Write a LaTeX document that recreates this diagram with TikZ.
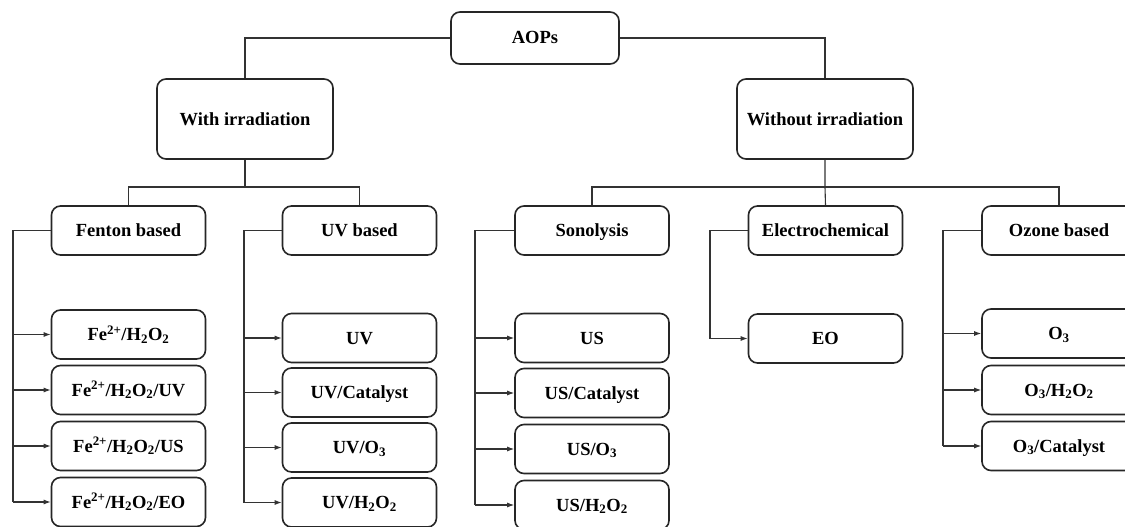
\documentclass[tikz,border=0pt]{standalone}
\usepackage{fontspec}
\setmainfont{Liberation Serif}
\usetikzlibrary{arrows.meta}
\definecolor{linec}{HTML}{333333}
\definecolor{boxc}{HTML}{262626}
\tikzset{
  box/.style={draw=boxc, line width=1.6pt, rounded corners=9pt, fill=white,
    inner sep=0pt, font=\bfseries\fontsize{18.5}{20}\selectfont,
    text height=15pt, text depth=3pt, align=center},
  lvlone/.style={box, minimum width=168pt, minimum height=52pt},
  lvltwo/.style={box, minimum width=176pt, minimum height=80pt},
  cat/.style={box, minimum width=154pt, minimum height=49pt},
  leaf/.style={box, minimum width=154pt, minimum height=49pt},
  conn/.style={draw=linec, line width=1.1pt},
  arr/.style={conn, -{Latex[length=7pt,width=5pt]}},
}
\begin{document}
\begin{tikzpicture}[x=1pt,y=-1pt]
\useasboundingbox (0,0) rectangle (1125,527);
\clip (0,0) rectangle (1125,527);
\fill[white] (0,0) rectangle (1125,527);
% top
\node[lvlone] (aops) at (535,38) {AOPs};
\node[lvltwo] (with) at (245,119) {With irradiation};
\node[lvltwo] (without) at (825,119) {Without irradiation};
% categories
\node[cat] (fenton) at (128.5,230.5) {Fenton based};
\node[cat] (uvb) at (359.5,230.5) {UV based};
\node[cat] (sono) at (592,230.5) {Sonolysis};
\node[cat] (elec) at (825.5,230.5) {Electrochemical};
\node[cat] (ozone) at (1059,230.5) {Ozone based};
% Fenton children
\node[leaf] (fe1) at (128.5,334.5) {Fe\textsuperscript{2+}/H\textsubscript{2}O\textsubscript{2}};
\node[leaf] (fe2) at (128.5,390) {Fe\textsuperscript{2+}/H\textsubscript{2}O\textsubscript{2}/UV};
\node[leaf] (fe3) at (128.5,446) {Fe\textsuperscript{2+}/H\textsubscript{2}O\textsubscript{2}/US};
\node[leaf] (fe4) at (128.5,502) {Fe\textsuperscript{2+}/H\textsubscript{2}O\textsubscript{2}/EO};
% UV children
\node[leaf] (uv1) at (359.5,338) {UV};
\node[leaf] (uv2) at (359.5,392.5) {UV/Catalyst};
\node[leaf] (uv3) at (359.5,447.5) {UV/O\textsubscript{3}};
\node[leaf] (uv4) at (359.5,502.5) {UV/H\textsubscript{2}O\textsubscript{2}};
% US children
\node[leaf] (us1) at (592,338) {US};
\node[leaf] (us2) at (592,393) {US/Catalyst};
\node[leaf] (us3) at (592,449) {US/O\textsubscript{3}};
\node[leaf] (us4) at (592,505) {US/H\textsubscript{2}O\textsubscript{2}};
% EO
\node[leaf] (eo) at (825.5,338.5) {EO};
% Ozone children
\node[leaf] (oz1) at (1059,333.5) {O\textsubscript{3}};
\node[leaf] (oz2) at (1059,390) {O\textsubscript{3}/H\textsubscript{2}O\textsubscript{2}};
\node[leaf] (oz3) at (1059,446) {O\textsubscript{3}/Catalyst};
% coordinates
\coordinate (b1) at (245,187);
\coordinate (b2) at (825,187);
\coordinate (sf) at (13,230.5);
\coordinate (su) at (244,230.5);
\coordinate (ss) at (475,230.5);
\coordinate (se) at (710,230.5);
\coordinate (so) at (943,230.5);
% connectors
\draw[conn] (aops.west) -| (with.north);
\draw[conn] (aops.east) -| (without.north);
\draw[conn] (with.south) -- (b1);
\draw[conn] (fenton.north) |- (b1) -| (uvb.north);
\draw[conn] (without.south) -- (b2) -- (elec.north);
\draw[conn] (sono.north) |- (b2) -| (ozone.north);
% side rails
\draw[conn] (fenton.west) -- (sf) -- (sf |- fe4.west);
\draw[conn] (uvb.west) -- (su) -- (su |- uv4.west);
\draw[conn] (sono.west) -- (ss) -- (ss |- us4.west);
\draw[conn] (elec.west) -- (se) -- (se |- eo.west);
\draw[conn] (ozone.west) -- (so) -- (so |- oz3.west);
\foreach \c in {fe1,fe2,fe3,fe4} \draw[arr] (sf |- \c.west) -- (\c.west);
\foreach \c in {uv1,uv2,uv3,uv4} \draw[arr] (su |- \c.west) -- (\c.west);
\foreach \c in {us1,us2,us3,us4} \draw[arr] (ss |- \c.west) -- (\c.west);
\draw[arr] (se |- eo.west) -- (eo.west);
\foreach \c in {oz1,oz2,oz3} \draw[arr] (so |- \c.west) -- (\c.west);
\end{tikzpicture}
\end{document}
